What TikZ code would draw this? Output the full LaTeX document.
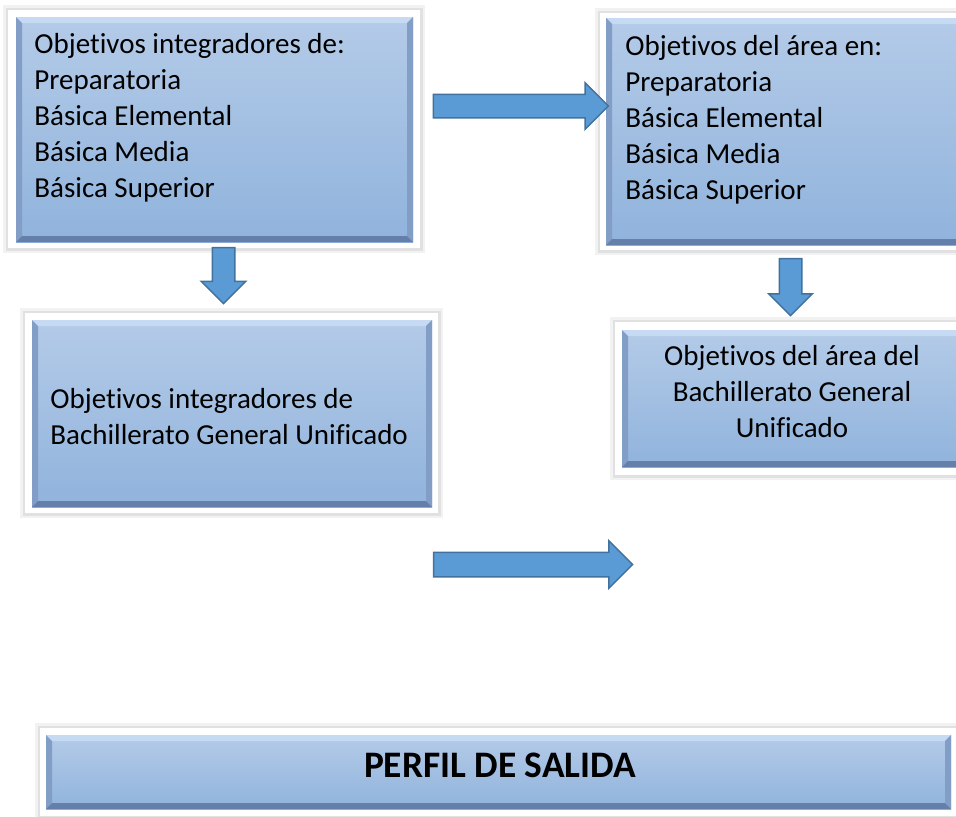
\documentclass[tikz,border=0pt]{standalone}
\usepackage{fontspec}
\setmainfont{Carlito}[RawFeature={-liga;-clig;-calt;-dlig}]
\usetikzlibrary{shapes.arrows}

\definecolor{paneltop}{RGB}{180,203,232}
\definecolor{panelbot}{RGB}{144,179,220}
\definecolor{bevlight}{RGB}{198,219,243}
\definecolor{bevside}{RGB}{130,158,198}
\definecolor{bevdark}{RGB}{100,128,170}
\definecolor{arrowfill}{RGB}{91,155,213}
\definecolor{arrowline}{RGB}{65,113,156}

\tikzset{
  frame/.style={rectangle, fill=white, inner sep=0pt,
    preaction={draw=black, opacity=0.05, line width=5pt},
    preaction={draw=black, opacity=0.07, line width=2.5pt}},
  panel/.style={rectangle, inner sep=0pt, top color=paneltop, bottom color=panelbot,
    path picture={
      \path (path picture bounding box.north west) coordinate (pnw)
            (path picture bounding box.north east) coordinate (pne)
            (path picture bounding box.south west) coordinate (psw)
            (path picture bounding box.south east) coordinate (pse);
      \fill[bevlight] (pnw) -- (pne) -- ([shift={(-3pt,-3pt)}]pne) -- ([shift={(3pt,-3pt)}]pnw) -- cycle;
      \fill[bevside] (pnw) -- ([shift={(3pt,-3pt)}]pnw) -- ([shift={(3pt,3pt)}]psw) -- (psw) -- cycle;
      \fill[bevside] (pne) -- ([shift={(-3pt,-3pt)}]pne) -- ([shift={(-3pt,3pt)}]pse) -- (pse) -- cycle;
      \fill[bevdark] (psw) -- ([shift={(3pt,3pt)}]psw) -- ([shift={(-3pt,3pt)}]pse) -- (pse) -- cycle;
    }},
  boxtext/.style={inner sep=0pt, font=\fontsize{14.5}{18}\selectfont},
  blockarrow/.style={single arrow, fill=arrowfill, draw=arrowline, line width=0.75pt,
    inner xsep=0pt, inner ysep=5.5pt, single arrow head extend=5.75pt, minimum width=0pt}
}

\begin{document}
\begin{tikzpicture}[x=0.5pt, y=-0.5pt]
        \clip (0,0) rectangle (956,816);

        \node[frame, minimum width=206pt, minimum height=119pt] (f1) at (214,129) {};
        \node[frame, minimum width=206pt, minimum height=118.5pt] (f2) at (806,131.5) {};
        \node[frame, minimum width=206.5pt, minimum height=100pt] (f3) at (231.5,413) {};
        \node[frame, minimum width=177pt, minimum height=76.5pt] (f4) at (792,398.5) {};
        \node[frame, minimum width=458.5pt, minimum height=44pt] (f5) at (498.5,772) {};

        \node[panel, minimum width=198.5pt, minimum height=112.5pt] (b1) at (214.5,129.5) {};
        \node[panel, minimum width=200pt, minimum height=113.5pt] (b2) at (806,131.5) {};
        \node[panel, minimum width=200pt, minimum height=93.5pt] (b3) at (232,413.5) {};
        \node[panel, minimum width=170pt, minimum height=68.5pt] (b4) at (792,398.5) {};
        \node[panel, minimum width=452.5pt, minimum height=37pt] (b5) at (498.5,772) {};

        \node[boxtext, anchor=north west, align=left] (t1) at (34,33) {Objetivos integradores de:\\Preparatoria\\Básica Elemental\\Básica Media\\Básica Superior};
        \node[boxtext, anchor=north west, align=left] (t2) at (625,35) {Objetivos del área en:\\Preparatoria\\Básica Elemental\\Básica Media\\Básica Superior};
        \node[boxtext, anchor=north west, align=left] (t3) at (50,388) {Objetivos integradores de\\Bachillerato General Unificado};
        \node[boxtext, anchor=north, align=center] (t4) at (792,345) {Objetivos del área del\\Bachillerato General\\Unificado};
        \node[inner sep=0pt, anchor=base, font=\fontsize{18.7}{22}\selectfont\bfseries] (t5) at (500,777) {PERFIL DE SALIDA};

        \node[blockarrow, minimum height=87.5pt] (a1) at (515,106) {};
        \node[blockarrow, rotate=-90, minimum height=28pt, inner ysep=5.25pt, single arrow head extend=5.5pt] (a2) at (223.5,270) {};
        \node[blockarrow, rotate=-90, minimum height=28.5pt, inner ysep=5.25pt, single arrow head extend=5.25pt] (a3) at (790.5,281.5) {};
        \node[blockarrow, minimum height=99.5pt, inner ysep=5.75pt] (a4) at (527,564.5) {};
\end{tikzpicture}
\end{document}
